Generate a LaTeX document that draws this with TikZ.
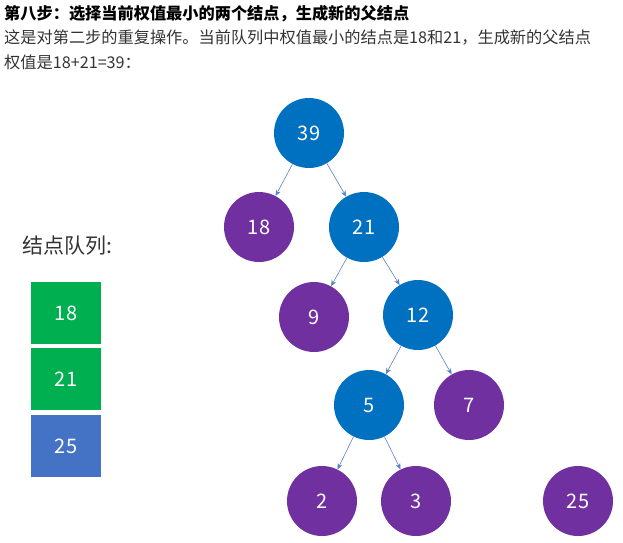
\documentclass[tikz,border=0pt]{standalone}
\usepackage{fontspec}
\setmainfont{Noto Sans CJK SC}
\usetikzlibrary{arrows.meta}
\definecolor{treeblue}{HTML}{0070C0}
\definecolor{treepurple}{HTML}{7030A0}
\definecolor{queuegreen}{HTML}{00B050}
\definecolor{queueblue}{HTML}{4472C4}
\definecolor{edgecol}{HTML}{5B7FC4}

\begin{document}
\begin{tikzpicture}[x=1pt,y=-1pt,
    parent/.style={circle,fill=treeblue,minimum size=70pt,inner sep=0pt,text=white,font=\fontsize{20}{20}\selectfont},
    leaf/.style={parent,fill=treepurple},
    qbox/.style={rectangle,fill=queuegreen,minimum width=70pt,minimum height=62pt,text=white,font=\fontsize{20}{20}\selectfont},
    link/.style={edgecol,line width=0.6pt,-{Stealth[length=6pt,width=5pt]}}
  ]
    \useasboundingbox (0,0) rectangle (623,542);

    % heading
    \node[anchor=west,inner sep=0pt,font=\fontsize{16.2}{16.2}\selectfont\bfseries] (title) at (4,14) {第八步：选择当前权值最小的两个结点，生成新的父结点};
    \node[anchor=west,inner sep=0pt,text=black!80,font=\fontsize{16.2}{16.2}\selectfont] (line1) at (4,38) {这是对第二步的重复操作。当前队列中权值最小的结点是18和21，生成新的父结点};
    \node[anchor=west,inner sep=0pt,text=black!80,font=\fontsize{16.2}{16.2}\selectfont] (line2) at (4,62) {权值是18+21=39：};

    % tree
    \node[parent] (n39) at (309,133) {39};
    \node[leaf]   (n18) at (259,227) {18};
    \node[parent] (n21) at (364,227) {21};
    \node[leaf]   (n9)  at (314,317) {9};
    \node[parent] (n12) at (418,315) {12};
    \node[parent] (n5)  at (369,405) {5};
    \node[leaf]   (n7)  at (469,405) {7};
    \node[leaf]   (n2)  at (322,501) {2};
    \node[leaf]   (n3)  at (416,501) {3};
    \node[leaf]   (n25) at (578,501) {25};

    \foreach \a/\b in {n39/n18,n39/n21,n21/n9,n21/n12,n12/n5,n12/n7,n5/n2,n5/n3}
      \draw[link] (\a) -- (\b);

    % queue
    \node[font=\fontsize{21}{21}\selectfont,text=black!80] (qlabel) at (67,246) {结点队列:};
    \node[qbox] (q18) at (66,313) {18};
    \node[qbox] (q21) at (66,379) {21};
    \node[qbox,fill=queueblue] (q25) at (66,446) {25};
\end{tikzpicture}
\end{document}
